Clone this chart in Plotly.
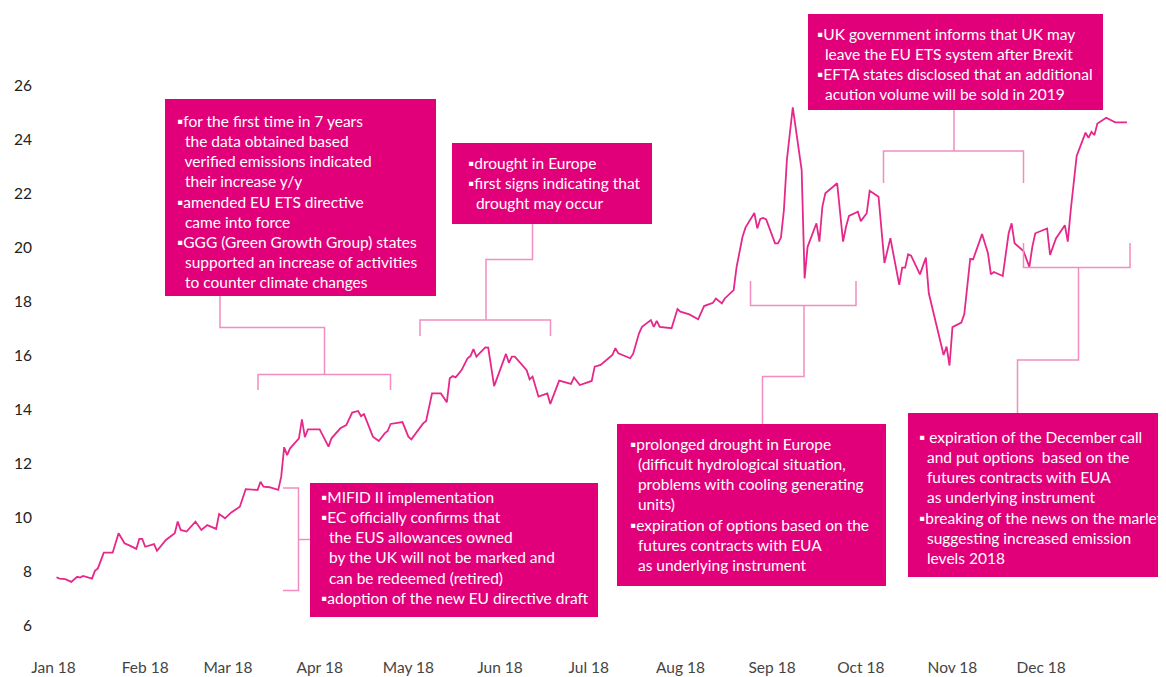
import plotly.graph_objects as go
from datetime import date, timedelta

# ---- data ----
day_offsets = [1, 2, 4, 6, 8, 9, 10, 13, 14, 15, 17, 20, 22, 24, 26, 28, 29, 30, 31, 34,
               35, 38, 41, 42, 43, 45, 48, 50, 52, 55, 56, 58, 60, 63, 65, 69, 70, 71, 73, 76,
               77, 78, 79, 80, 83, 84, 85, 86, 90, 93, 94, 97, 99, 101, 103, 104, 105, 108, 110, 112,
               113, 114, 118, 120, 121, 123, 125, 126, 128, 131, 133, 134, 135, 136, 138, 140, 141, 142, 143, 146,
               147, 149, 153, 154, 155, 156, 160, 161, 162, 164, 167, 168, 171,
               175, 176, 178, 182, 183, 185, 189, 190, 191, 195, 196, 198, 199, 202, 203, 204, 205, 209, 211, 212,
               215, 218, 220, 223, 224, 226, 227, 230, 231, 233, 234, 237, 238, 239, 240, 241, 244, 245, 246, 247,
               248, 250, 253, 254, 255, 258, 259, 260, 261, 265, 267, 268, 269, 272, 273, 275, 276, 279, 281, 283,
               286, 287, 288, 289, 290, 293, 295, 296, 301, 302, 303, 304, 307, 308, 310, 311, 314, 316, 317, 318,
               321, 322, 323, 324, 325, 328, 330, 331, 332, 336, 337, 339, 342, 343, 344, 346, 349, 350, 351, 352,
               353, 356, 359, 363]
eua_price = [7.80, 7.75, 7.73, 7.63, 7.82, 7.79, 7.85, 7.75, 8.04, 8.13, 8.71, 8.71, 9.43, 9.06, 8.96, 8.85, 9.22, 9.22, 8.93, 9.03,
             8.78, 9.18, 9.43, 9.86, 9.55, 9.49, 9.86, 9.55, 9.73, 9.59, 10.14, 9.98, 10.19, 10.41, 11.06, 11.03, 11.33, 11.15, 11.13, 11.03,
             11.52, 12.61, 12.32, 12.57, 12.94, 13.64, 12.98, 13.27, 13.27, 12.63, 12.94, 13.31, 13.43, 13.89, 13.95, 13.76, 13.83, 13.00, 12.84, 13.12,
             13.21, 13.47, 13.54, 13.00, 12.90, 13.18, 13.49, 13.58, 14.60, 14.60, 14.27, 15.16, 15.24, 15.19, 15.46, 15.90, 15.98, 16.24, 15.96, 16.30,
             16.29, 14.87, 16.06, 15.73, 15.96, 15.96, 15.46, 15.12, 15.22, 14.48, 14.60, 14.21, 15.07,
             14.95, 15.19, 14.91, 15.06, 15.59, 15.65, 16.02, 16.27, 16.08, 15.90, 16.06, 16.82, 17.06, 17.31, 17.06, 17.28, 17.06, 17.01, 17.72, 17.62,
             17.52, 17.34, 17.83, 17.95, 18.11, 17.93, 18.11, 18.42, 19.28, 20.39, 20.73, 21.27, 20.70, 21.05, 21.09, 21.03, 20.15, 20.15, 20.36, 21.38,
             23.23, 25.18, 22.86, 18.85, 20.02, 20.89, 20.21, 21.50, 22.00, 22.37, 20.21, 20.76, 21.16, 21.32, 20.97, 21.26, 22.09, 21.87, 19.42, 20.34,
             18.61, 19.25, 19.25, 19.74, 19.69, 19.00, 19.62, 18.30, 16.02, 16.33, 15.63, 17.05, 17.22, 17.53, 19.57, 19.56, 20.49, 19.78, 19.00, 19.09,
             18.94, 19.65, 20.52, 20.89, 20.15, 19.86, 19.28, 20.02, 20.52, 20.70, 19.72, 20.33, 20.82, 20.21, 21.38, 23.38, 24.24, 24.05, 24.27, 24.15,
             24.58, 24.79, 24.62, 24.62]

month_ticks = ["2018-01-01", "2018-02-01", "2018-03-01", "2018-04-01", "2018-05-01", "2018-06-01",
               "2018-07-01", "2018-08-01", "2018-09-01", "2018-10-01", "2018-11-01", "2018-12-01"]
month_labels = ["Jan 18", "Feb 18", "Mar 18", "Apr 18", "May 18", "Jun 18",
                "Jul 18", "Aug 18", "Sep 18", "Oct 18", "Nov 18", "Dec 18"]
y_ticks = [6, 8, 10, 12, 14, 16, 18, 20, 22, 24, 26]

B = "\u25aa"
S = "&nbsp;&nbsp;"
notes = [
    [B + "for the first time in 7 years", S + "the data obtained based", S + "verified emissions indicated",
     S + "their increase y/y", B + "amended EU ETS directive", S + "came into force",
     B + "GGG (Green Growth Group) states", S + "supported an increase of activities", S + "to counter climate changes"],
    [B + "drought in Europe", B + "first signs indicating that", S + "drought may occur"],
    [B + "MIFID II implementation", B + "EC officially confirms that", S + "the EUS allowances owned",
     S + "by the UK will not be marked and", S + "can be redeemed (retired)", B + "adoption of the new EU directive draft"],
    [B + "prolonged drought in Europe", S + "(difficult hydrological situation,", S + "problems with cooling generating",
     S + "units)", B + "expiration of options based on the", S + "futures contracts with EUA", S + "as underlying instrument"],
    [B + "UK government informs that UK may", S + "leave the EU ETS system after Brexit",
     B + "EFTA states disclosed that an additional", S + "acution volume will be sold in 2019"],
    [B + " expiration of the December call", S + "and put options  based on the", S + "futures contracts with EUA",
     S + "as underlying instrument", B + "breaking of the news on the marlet", S + "suggesting increased emission",
     S + "levels 2018"],
]

# ---- layout geometry ----
# The page body adds an 8px offset; positions below are given in window pixels
OFF = 8
W, H = 1166 - OFF, 677 - OFF
ML, MR, MT, MB = 30, 0, 0, 21
PW, PH = W - ML - MR, H - MT - MB


def fx(px):
    return (px - OFF - ML) / PW


def fy(py):
    return 1 - (py - OFF - MT) / PH


# box rectangles: (x0, y0, x1, y1) and text anchor (left, first line top)
boxes = [
    ((165, 99, 436, 296), (175, 110)),
    ((452, 143, 652, 224), (466, 152)),
    ((310, 483, 598, 617), (319, 486)),
    ((617, 424, 886, 586), (628, 433)),
    ((808, 14, 1103, 110), (815, 23)),
    ((908, 413, 1180, 577), (917, 426)),
]

brackets = [
    [(220, 296), (220, 327.5), (324.5, 327.5), (324.5, 374.5)],
    [(258, 390), (258, 374.5), (390.5, 374.5), (390.5, 390)],
    [(532.5, 224), (532.5, 259.5), (486, 259.5), (486, 320)],
    [(420, 336), (420, 320), (550.5, 320), (550.5, 336)],
    [(283, 488), (298.5, 488), (298.5, 590.5), (283, 590.5)],
    [(298.5, 539.5), (310, 539.5)],
    [(750.5, 281), (750.5, 305.5), (856, 305.5), (856, 281)],
    [(804, 305.5), (804, 376.5), (762.5, 376.5), (762.5, 424)],
    [(954, 110), (954, 151)],
    [(883.5, 183), (883.5, 151), (1023.5, 151), (1023.5, 183)],
    [(1023.5, 243), (1023.5, 267.5), (1130, 267.5), (1130, 243)],
    [(1078.5, 267.5), (1078.5, 360), (1017.5, 360), (1017.5, 413)],
]

dates = [(date(2018, 1, 1) + timedelta(days=d)).isoformat() for d in day_offsets]

fig = go.Figure()
fig.add_trace(go.Scatter(x=dates, y=eua_price, mode="lines",
                         line=dict(color="#E6288A", width=1.8), hoverinfo="x+y"))

shapes = []
for pts in brackets:
    path = "M " + " L ".join(f"{fx(x):.5f},{fy(y):.5f}" for x, y in pts)
    shapes.append(dict(type="path", xref="paper", yref="paper", path=path,
                       line=dict(color="#F18DC0", width=1.5), layer="above"))
for (x0, y0, x1, y1), _ in boxes:
    shapes.append(dict(type="rect", xref="paper", yref="paper",
                       x0=fx(x0), x1=fx(x1), y0=fy(y1), y1=fy(y0),
                       fillcolor="#E2007A", line=dict(width=0), layer="above"))

annotations = []
for ((x0, y0, x1, y1), (tx, ty)), lines in zip(boxes, notes):
    annotations.append(dict(xref="paper", yref="paper", x=fx(tx), y=fy(ty),
                            xanchor="left", yanchor="top", align="left", showarrow=False,
                            text="<br>".join(lines),
                            font=dict(family="Lato", size=15.5, color="white")))

fig.update_layout(
    width=W, height=H,
    margin=dict(l=ML, r=MR, t=MT, b=MB),
    paper_bgcolor="white", plot_bgcolor="white",
    showlegend=False,
    shapes=shapes, annotations=annotations,
    font=dict(family="Lato", size=15, color="#333333"),
    xaxis=dict(type="date", range=["2017-12-26 18:00", "2019-01-12 05:00"],
               tickvals=month_ticks, ticktext=month_labels,
               showgrid=False, zeroline=False, showline=False, ticks="",
               tickfont=dict(size=15.5, color="#444444")),
    yaxis=dict(range=[4.89, 28.85], tickvals=y_ticks,
               showgrid=False, zeroline=False, showline=False, ticks="",
               ticklabelstandoff=5,
               tickfont=dict(size=15.5, color="#222222")),
)

fig.write_html("out.html")
